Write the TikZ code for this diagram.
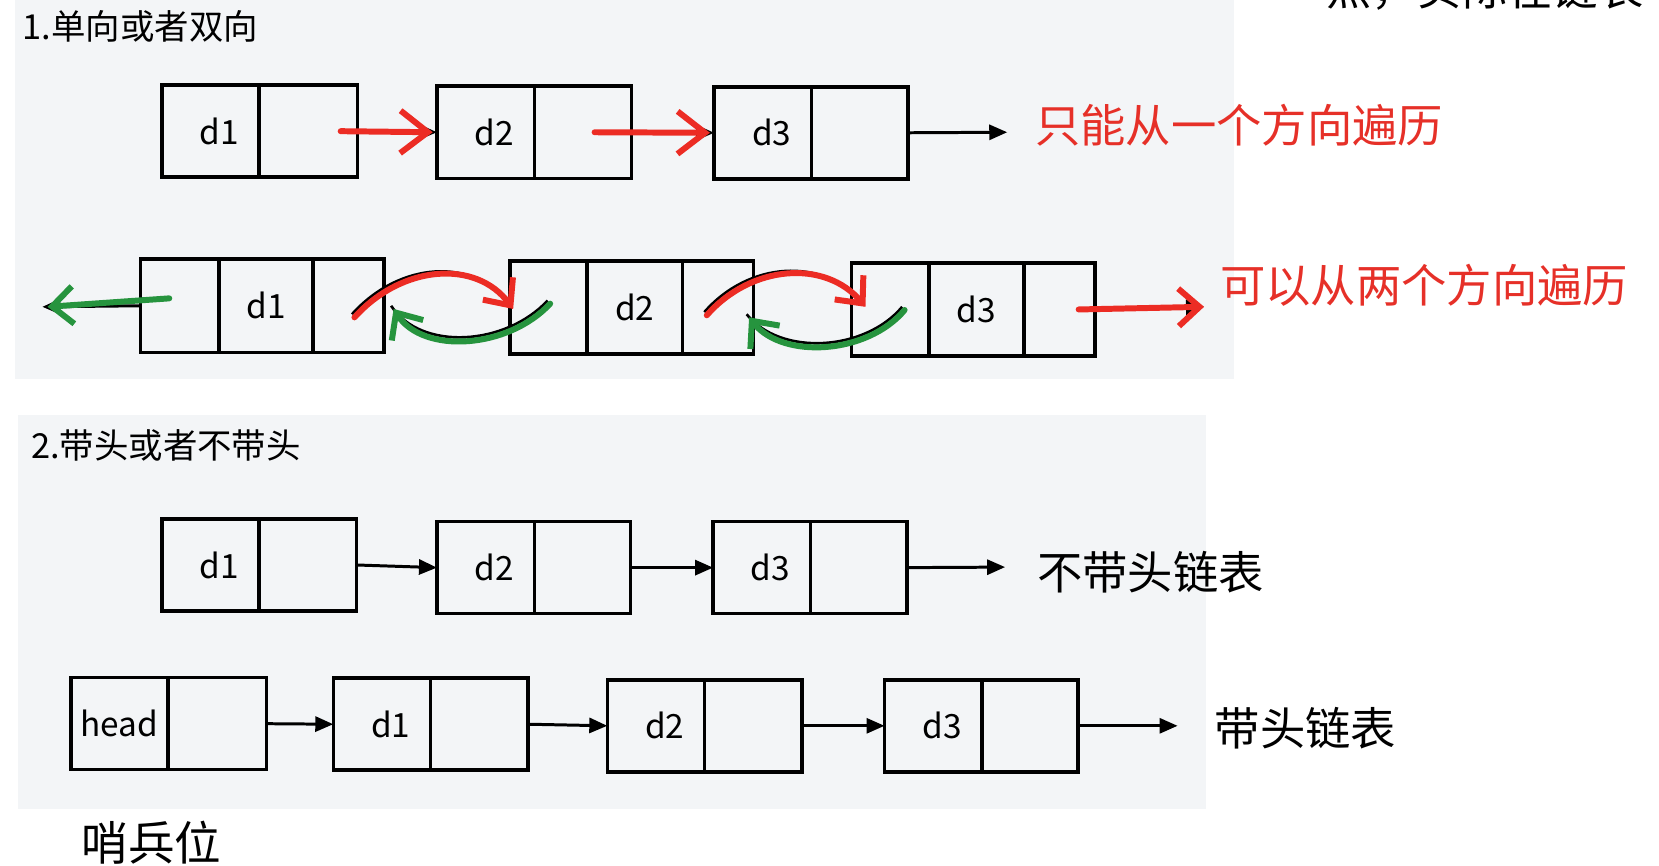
\documentclass[tikz,border=0pt]{standalone}
\usepackage{fontspec}
\setmainfont{Noto Sans CJK SC}
\usetikzlibrary{positioning,arrows.meta}
\def\px{0.021162cm}
\definecolor{panelgray}{RGB}{243,245,247}
\definecolor{penred}{RGB}{236,44,36}
\definecolor{pengreen}{RGB}{38,148,62}
\definecolor{notered}{RGB}{230,48,40}
\tikzset{
  cell/.style={draw, line width=2pt, minimum height=87*\px, inner sep=0pt, outer sep=0pt,
    font=\fontsize{19}{22}\selectfont},
  link/.style={line width=1.7pt, -{Triangle[length=0.36cm,width=0.3cm]}},
  underink/.style={line width=1.5pt, transform canvas={shift={(-1.4pt,1.8pt)}}},
  redpen/.style={draw=penred, line width=3.4pt, line cap=round, line join=round,
    -{Straight Barb[length=0.42cm,width=0.75cm]}},
  greenpen/.style={redpen, draw=pengreen},
  heading/.style={anchor=west, inner sep=0pt, font=\fontsize{19.6}{23}\selectfont},
  note/.style={anchor=west, inner sep=0pt, font=\fontsize{25.8}{30}\selectfont},
}
\begin{document}
\begin{tikzpicture}[x=\px, y=-\px]
  % canvas and the two grey panels
  \fill[white] (0,0) rectangle (1568,818);
  \useasboundingbox (0,0) rectangle (1568,818);
  \fill[panelgray] (14,0) rectangle (1166,358);
  \fill[panelgray] (17,392) rectangle (1140,765);
  % line cut off at the top edge
  \begin{scope}
    \clip (0,0) rectangle (1568,818);
    \node[note, anchor=base west] (topline) at (1253,5) {点，实际在链表};
  \end{scope}

  % 1. single or double direction
  \node[heading] (sec1) at (21,25) {1.单向或者双向};

  % singly linked row
  \node[cell, minimum width=92*\px] (a1) at (199,124) {\hspace{10pt}d1};
  \node[cell, minimum width=93*\px, right=0pt of a1] (a1n) {};
  \node[cell, minimum width=92*\px] (a2) at (459,125) {\hspace{10pt}d2};
  \node[cell, minimum width=92*\px, right=0pt of a2] (a2n) {};
  \node[cell, minimum width=92*\px] (a3) at (721,125.5) {\hspace{10pt}d3};
  \node[cell, minimum width=91*\px, right=0pt of a3] (a3n) {};
  \coordinate (a3end) at (952,125);
  \draw[link] (a1n.east) -- (a2.west);
  \draw[link] (a2n.east) -- (a3.west);
  \draw[link] (a3n.east) -- (a3end);
  \draw[redpen, -{Straight Barb[length=0.55cm,width=0.85cm]}] ([xshift=-16*\px]a1n.east) -- ([xshift=-4*\px]a2.west);
  \draw[redpen, -{Straight Barb[length=0.55cm,width=0.85cm]}] ([xshift=11*\px]a2n.center) -- ([xshift=-4*\px]a3.west);
  \node[note, text=notered] (onedir) at (978,118) {只能从一个方向遍历};

  % doubly linked row
  \node[cell, minimum width=74*\px, minimum height=88*\px] (b1p) at (170,289) {};
  \node[cell, minimum width=89*\px, minimum height=88*\px, right=0pt of b1p] (b1) {d1};
  \node[cell, minimum width=67*\px, minimum height=88*\px, right=0pt of b1] (b1n) {};
  \node[cell, minimum width=73*\px, minimum height=88*\px] (b2p) at (518.5,290.5) {};
  \node[cell, minimum width=90*\px, minimum height=88*\px, right=0pt of b2p] (b2) {d2};
  \node[cell, minimum width=67*\px, minimum height=88*\px, right=0pt of b2] (b2n) {};
  \node[cell, minimum width=73*\px, minimum height=88*\px] (b3p) at (841.5,292.5) {};
  \node[cell, minimum width=90*\px, minimum height=88*\px, right=0pt of b3p] (b3) {d3};
  \node[cell, minimum width=67*\px, minimum height=88*\px, right=0pt of b3] (b3n) {};
  \coordinate (b1end) at (40,290);
  \coordinate (b3end) at (1138,290);
  \draw[link] (b1p.west) -- (b1end);
  \draw[link] (b3n.east) -- (b3end);
  \draw[underink] ([shift={(5.5,11)}]b1n.center) .. controls +(45,-50) and +(-35,-47) .. ([shift={(3,1.5)}]b2p.west);
  \draw[underink] ([shift={(1.5,-3.5)}]b2p.center) .. controls +(-40,43) and +(28,43) .. ([shift={(9,3)}]b1n.east);
  \draw[underink] ([shift={(-10.5,7.5)}]b2n.center) .. controls +(42,-48) and +(-38,-45) .. ([shift={(13,-2.5)}]b3p.west);
  \draw[underink] ([shift={(13.5,0.5)}]b3p.center) .. controls +(-35,42) and +(32,40) .. ([shift={(-4,9.5)}]b2n.east);
  \draw[greenpen] ([shift={(-10,-7)}]b1p.center) -- ([xshift=5*\px]b1end);
  \draw[redpen] ([shift={(5.5,11)}]b1n.center) .. controls +(45,-50) and +(-35,-47) .. ([shift={(3,1.5)}]b2p.west);
  \draw[greenpen] ([shift={(1.5,-3.5)}]b2p.center) .. controls +(-40,43) and +(28,43) .. ([shift={(9,3)}]b1n.east);
  \draw[redpen] ([shift={(-10.5,7.5)}]b2n.center) .. controls +(42,-48) and +(-38,-45) .. ([shift={(13,-2.5)}]b3p.west);
  \draw[greenpen] ([shift={(13.5,0.5)}]b3p.center) .. controls +(-35,42) and +(32,40) .. ([shift={(-4,9.5)}]b2n.east);
  \draw[redpen] ([xshift=18*\px]b3n.center) -- (b3end);
  \node[note, text=notered] (twodir) at (1153,270) {可以从两个方向遍历};

  % 2. with or without a head
  \node[heading] (sec2) at (29,421) {2.带头或者不带头};

  % list without head
  \node[cell, minimum width=92*\px] (c1) at (199,534) {\hspace{10pt}d1};
  \node[cell, minimum width=92*\px, right=0pt of c1] (c1n) {};
  \node[cell, minimum width=92*\px] (c2) at (459,536.5) {\hspace{10pt}d2};
  \node[cell, minimum width=91*\px, right=0pt of c2] (c2n) {};
  \node[cell, minimum width=92*\px] (c3) at (720,536.5) {\hspace{10pt}d3};
  \node[cell, minimum width=91*\px, right=0pt of c3] (c3n) {};
  \coordinate (c3end) at (950,536);
  \draw[link] (c1n.east) -- (c2.west);
  \draw[link] (c2n.east) -- (c3.west);
  \draw[link] (c3n.east) -- (c3end);
  \node[note] (nohead) at (980,541) {不带头链表};

  % list with head
  \node[cell, minimum width=92*\px] (h0) at (113,684) {head};
  \node[cell, minimum width=93*\px, right=0pt of h0] (h0n) {};
  \node[cell, minimum width=92*\px] (h1) at (361,684.5) {\hspace{10pt}d1};
  \node[cell, minimum width=92*\px, right=0pt of h1] (h1n) {};
  \node[cell, minimum width=92*\px] (h2) at (620,686) {\hspace{10pt}d2};
  \node[cell, minimum width=92*\px, right=0pt of h2] (h2n) {};
  \node[cell, minimum width=92*\px] (h3) at (882,686) {\hspace{10pt}d3};
  \node[cell, minimum width=91*\px, right=0pt of h3] (h3n) {};
  \coordinate (h3end) at (1113,686);
  \draw[link] (h0n.east) -- (h1.west);
  \draw[link] (h1n.east) -- (h2.west);
  \draw[link] (h2n.east) -- (h3.west);
  \draw[link] (h3n.east) -- (h3end);
  \node[note] (withhead) at (1148,688) {带头链表};

  \node[note, font=\fontsize{26.5}{30}\selectfont] (sentinel) at (77,796) {哨兵位};
\end{tikzpicture}
\end{document}
